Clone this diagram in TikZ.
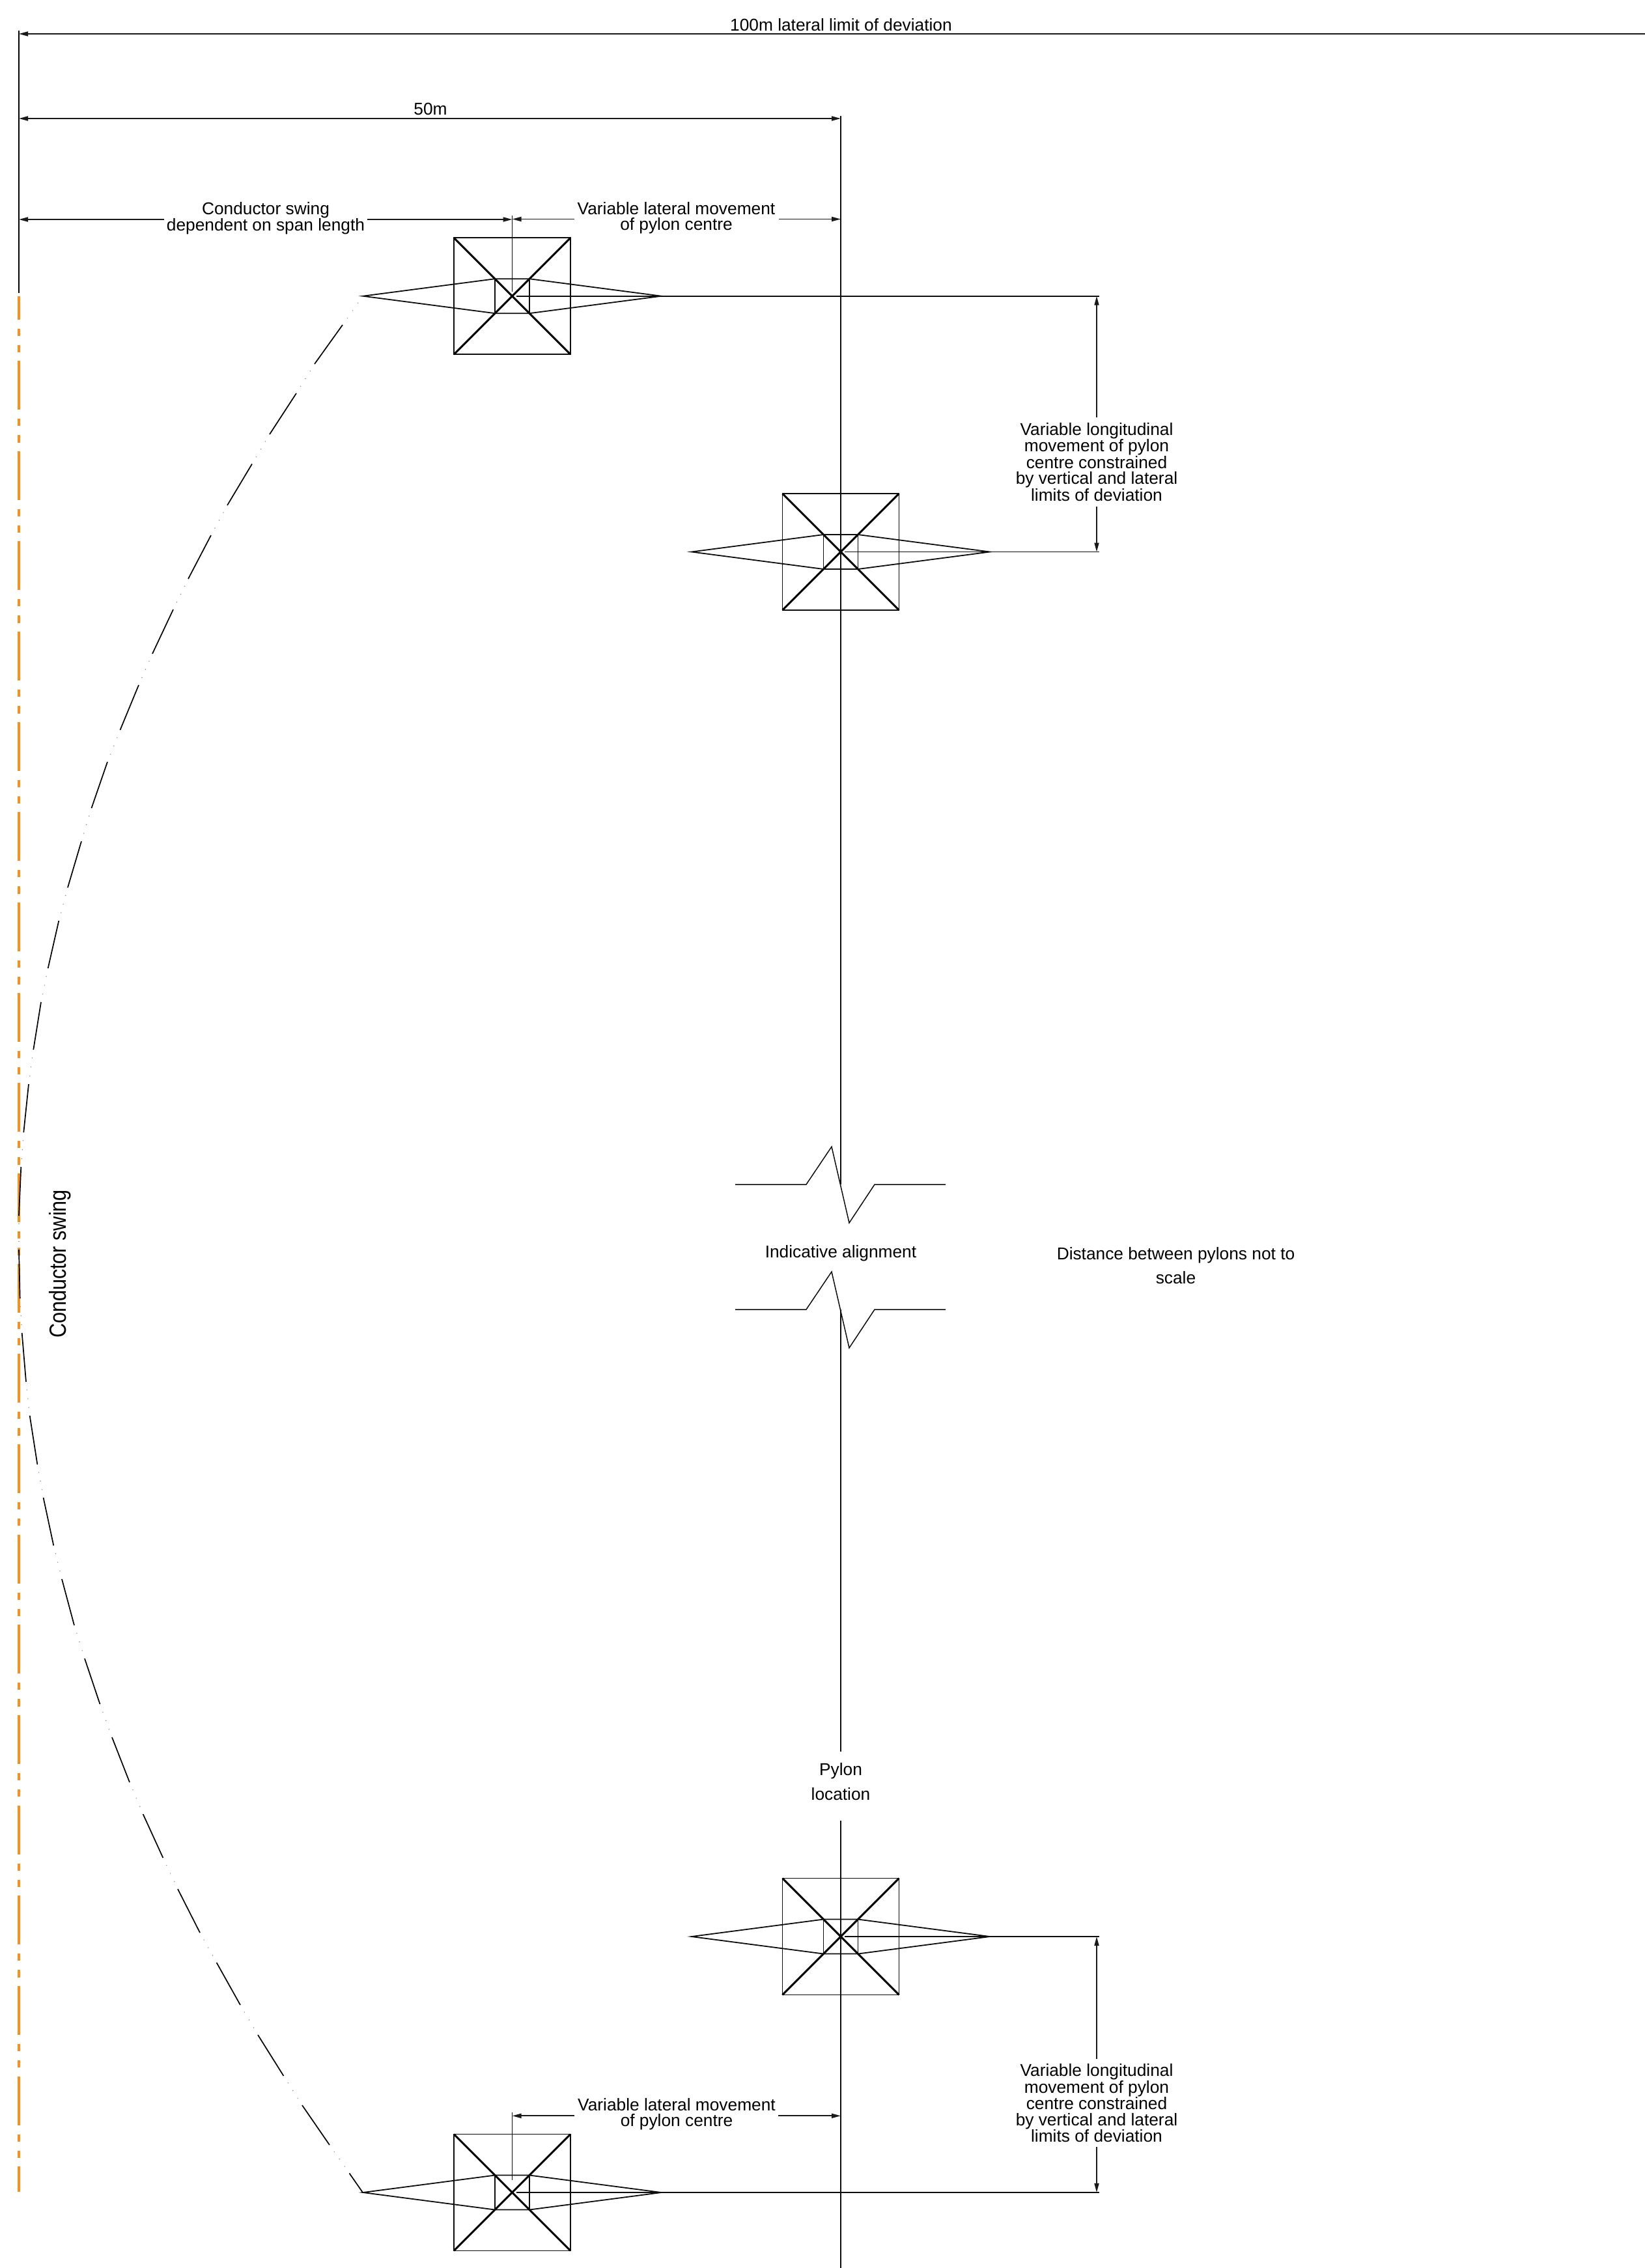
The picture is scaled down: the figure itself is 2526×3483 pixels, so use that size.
\documentclass[tikz,border=0pt]{standalone}
\usepackage{fontspec}
\setmainfont{Liberation Sans}
\usetikzlibrary{arrows.meta,calc}
\definecolor{swingorange}{HTML}{F7901E}
\tikzset{
  ln/.style={line width=1.8pt,black!95},
  thick x/.style={line width=3pt,black},
  dimline/.style={line width=1.8pt,black!90},
  both tips/.style={dimline,{Triangle[length=14pt,width=7pt]}-{Triangle[length=14pt,width=7pt]}},
  start tip/.style={dimline,{Triangle[length=14pt,width=7pt]}-},
  end tip/.style={dimline,-{Triangle[length=14pt,width=7pt]}},
  lab/.style={inner sep=0pt,align=center,font=\fontsize{26.3}{24.5}\selectfont},
  widelab/.style={inner sep=0pt,align=center,font=\fontsize{26.3}{37.6}\selectfont},
  swingdash/.style={line width=1.7pt,black},
  pylon/.pic={
    \coordinate (-tl) at (-89.5,-89.5);
    \coordinate (-tr) at (89.5,-89.5);
    \coordinate (-bl) at (-89.5,89.5);
    \coordinate (-br) at (89.5,89.5);
    \coordinate (-l) at (-229,0);
    \coordinate (-r) at (229,0);
    \coordinate (-c) at (0,0);
    \coordinate (-s) at (6,0);
    \draw[ln] (-tl) rectangle (-br);
    \draw[thick x] (-tl) -- (-br) (-tr) -- (-bl);
    \draw[ln] (-l) -- (-26.5,-26.5) -- (26.5,-26.5) -- (-r) -- (26.5,26.5) -- (-26.5,26.5) -- cycle;
    \draw[ln] (-26.5,-26.5) -- (-26.5,26.5) (26.5,-26.5) -- (26.5,26.5);
    \draw[ln] (-s) -- (-r);
  }
}
\begin{document}
\begin{tikzpicture}[x=1pt,y=-1pt]
\useasboundingbox (0,0) rectangle (2526,3483);

% pylons
\pic (pa) at (786.5,454.7) {pylon};
\pic (pb) at (1291,847.5) {pylon};
\pic (pc) at (1291,2974) {pylon};
\pic (pd) at (786.5,3367) {pylon};

% central alignment
\coordinate (ctop) at (1291,178);
\coordinate (zu) at (1291,1819);
\coordinate (zl) at (1291,2011);
\coordinate (gapa) at (1291,2690);
\coordinate (gapb) at (1291,2795.7);
\coordinate (cbot) at (1291,3483);
\draw[ln] (ctop) -- (zu) (zl) -- (gapa) (gapb) -- (cbot);

% break symbols
\draw[ln,line width=1.5pt] (1129,1819) -- (1238,1819) -- (1277,1761) -- (1304,1878) -- (1343,1819) -- (1452,1819);
\draw[ln,line width=1.5pt] (1129,2011) -- (1238,2011) -- (1277,1953) -- (1304,2070) -- (1343,2011) -- (1452,2011);

% left boundary and orange line
\coordinate (ltop) at (29,47);
\coordinate (lbot) at (29,450);
\coordinate (otop) at (29,455);
\coordinate (obot) at (29,3366);
\draw[line width=2pt,black] (ltop) -- (lbot);
\draw[swingorange,line width=3.6pt,dash pattern=on 75pt off 14pt on 11pt off 14pt on 11.5pt off 13.15pt,dash phase=39.5pt] (otop) -- (obot);

% conductor swing curve
\foreach \sx/\sy/\ex/\ey [remember=\ex as \px (initially 557),remember=\ey as \py (initially 454.7)] in {
  526/499/483/559, 455/604/414/667, 387/712.5/349/776, 324/822/289/889,
  266/936/234/1004, 213/1052/184.5/1121, 165/1170/140.5/1241, 125/1292/104/1363,
  90.3/1414/73.7/1487, 63/1539/51.3/1612, 44/1665/36.3/1739, 32.3/1792/29/1867,
  29/1919/30.7/1994, 33.7/2047/40/2122, 45.7/2174/57.4/2249, 66.6/2300/82.3/2373.5,
  95/2425/114/2496, 130/2547/153.5/2617, 172/2668/199/2737, 219.7/2786/250.3/2853,
  273/2901/307/2968, 332.6/3014/369/3079, 396/3125/435.5/3188, 464/3233/506/3294,
  536.5/3337.5/557/3367}{
  \draw[swingdash] (\sx,\sy) -- (\ex,\ey);
  \foreach \t in {0.24,0.5,0.76}{
    \fill[black!45] ($(\px,\py)!\t!(\sx,\sy)$) circle (0.8pt);
  }
}

% 100m dimension
\coordinate (da1) at (29,52);
\coordinate (da2) at (2526,52);
\draw[start tip] (da1) -- (da2);
\node[lab,anchor=base] (t100) at (1291.5,47.5) {100m lateral limit of deviation};

% 50m dimension
\coordinate (db1) at (29,182);
\coordinate (db2) at (1291,182);
\draw[both tips] (db1) -- (db2);
\node[lab,anchor=base] (t50) at (661,176) {50m};

% top dimension row
\coordinate (dc1) at (29,337);
\coordinate (dc2) at (252,337);
\coordinate (dc3) at (564,337);
\coordinate (dc4) at (786.5,337);
\draw[start tip] (dc1) -- (dc2);
\draw[end tip] (dc3) -- (dc4);
\node[lab] (tcs) at (408,335) {Conductor swing\\dependent on span length};
\coordinate (dd1) at (786.5,336.5);
\coordinate (dd2) at (882,336.5);
\coordinate (dd3) at (1196,336.5);
\coordinate (dd4) at (1291,336.5);
\draw[start tip] (dd1) -- (dd2);
\draw[end tip] (dd3) -- (dd4);
\node[lab] (tvl) at (1038.5,334.5) {Variable lateral movement\\of pylon centre};
\coordinate (te) at (786.5,331);
\coordinate (teb) at (786.5,448);
\draw[ln] (te) -- (teb);

% longitudinal upper
\coordinate (ha) at (1688,454.7);
\coordinate (hb) at (1688,847.5);
\draw[ln] (pa-r) -- (ha);
\draw[ln] (pb-r) -- (hb);
\coordinate (ea1) at (1684,454.7);
\coordinate (ea2) at (1684,641);
\coordinate (ea3) at (1684,778);
\coordinate (ea4) at (1684,847.5);
\draw[start tip] (ea1) -- (ea2);
\draw[end tip] (ea3) -- (ea4);
\node[lab] (tlu) at (1684,709.5) {Variable longitudinal\\movement of pylon\\centre constrained\\by vertical and lateral\\limits of deviation};

% longitudinal lower
\coordinate (hc) at (1688,2974);
\coordinate (hd) at (1688,3367);
\draw[ln] (pc-r) -- (hc);
\draw[ln] (pd-r) -- (hd);
\coordinate (eb1) at (1684,2974);
\coordinate (eb2) at (1684,3162);
\coordinate (eb3) at (1684,3297);
\coordinate (eb4) at (1684,3367);
\draw[start tip] (eb1) -- (eb2);
\draw[end tip] (eb3) -- (eb4);
\node[lab] (tll) at (1684,3230) {Variable longitudinal\\movement of pylon\\centre constrained\\by vertical and lateral\\limits of deviation};

% lower lateral dimension
\coordinate (df1) at (786.5,3249.3);
\coordinate (df2) at (882,3249.3);
\coordinate (df3) at (1195,3249.3);
\coordinate (df4) at (1291,3249.3);
\draw[start tip] (df1) -- (df2);
\draw[end tip] (df3) -- (df4);
\node[lab] (tvb) at (1039,3246.5) {Variable lateral movement\\of pylon centre};
\coordinate (tf) at (786.5,3244);
\coordinate (tfb) at (786.5,3348);
\draw[ln] (tf) -- (tfb);

% free labels
\node[lab,anchor=base] (tia) at (1291,1931.7) {Indicative alignment};
\node[widelab] (tds) at (1805.5,1943.5) {Distance between pylons not to\\scale};
\node[widelab] (tpl) at (1291,2736) {Pylon\\location};
\node[inner sep=0pt,rotate=90,anchor=base,font=\fontsize{36}{36}\selectfont] (tsw) at (101,1941) {\scalebox{0.85}[1]{Conductor swing}};
\end{tikzpicture}
\end{document}
